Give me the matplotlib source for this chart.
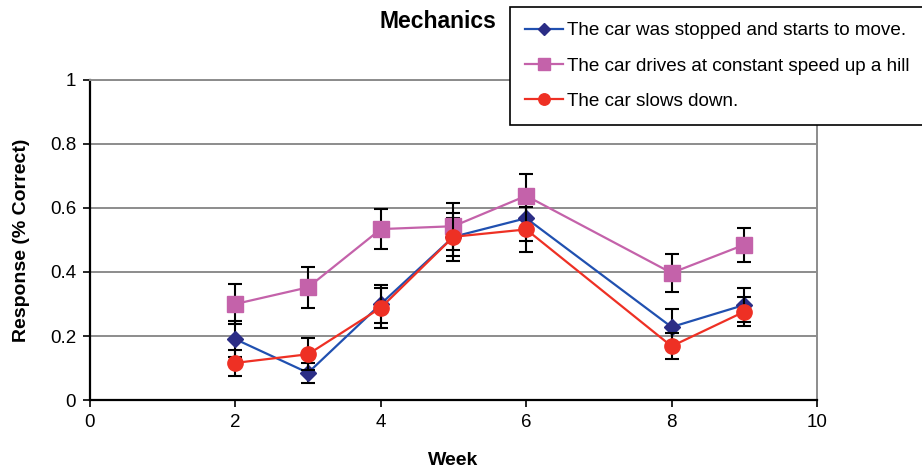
import matplotlib.pyplot as plt
from matplotlib.lines import Line2D
import numpy as np

plt.rcParams["font.family"] = ["Liberation Sans", "DejaVu Sans"]

# data
weeks = [2, 3, 4, 5, 6, 8, 9]

stopped = [0.19, 0.085, 0.30, 0.51, 0.568, 0.228, 0.297]
stopped_err = [0.057, 0.032, 0.06, 0.06, 0.07, 0.055, 0.053]

hill = [0.30, 0.352, 0.534, 0.543, 0.638, 0.397, 0.485]
hill_err = [0.062, 0.063, 0.063, 0.073, 0.068, 0.058, 0.053]

slows = [0.116, 0.143, 0.288, 0.51, 0.533, 0.168, 0.276]
slows_err = [0.04, 0.05, 0.062, 0.075, 0.07, 0.04, 0.045]

labels = [
    "The car was stopped and starts to move.",
    "The car drives at constant speed up a hill",
    "The car slows down.",
]

styles = [
    dict(color="#2050b0", marker="D", ms=8, mfc="#2b2d86", mec="#2b2d86"),
    dict(color="#c462aa", marker="s", ms=11, mfc="#c462aa", mec="#c462aa"),
    dict(color="#ee3024", marker="o", ms=11, mfc="#ee3024", mec="#ee3024"),
]

fig = plt.figure(figsize=(9.22, 4.73), dpi=100)
ax = fig.add_axes((0.0976, 0.1543, 0.7885, 0.6767))

err_kw = dict(ecolor="black", elinewidth=1.5, capsize=5, capthick=1.5, lw=1.6)

for ys, es, st, z in zip([stopped, hill, slows],
                         [stopped_err, hill_err, slows_err], styles, [3, 3, 4]):
    ax.errorbar(weeks, ys, yerr=es, zorder=z, **st, **err_kw)

ax.set_xlim(0, 10)
ax.set_ylim(0, 1)
ax.set_xticks(np.arange(0, 11, 2))
ax.set_yticks([0, 0.2, 0.4, 0.6, 0.8, 1])
ax.set_yticklabels(["0", "0.2", "0.4", "0.6", "0.8", "1"])
ax.tick_params(labelsize=13.5, length=5, width=1.2, direction="out", pad=5)

ax.grid(axis="y", color="#8c8c8c", lw=1.4)
ax.set_axisbelow(True)
for side in ["top", "right"]:
    ax.spines[side].set_color("#8c8c8c")
    ax.spines[side].set_linewidth(1.4)
for side in ["left", "bottom"]:
    ax.spines[side].set_linewidth(1.6)

ax.set_xlabel("Week", fontsize=14, fontweight="bold", labelpad=15)
ax.set_ylabel("Response (% Correct)", fontsize=14, fontweight="bold", labelpad=14)

fig.text(0.475, 0.955, "Mechanics", fontsize=16.5, fontweight="bold",
         ha="center", va="center")

handles = []
for st in styles:
    h = dict(st)
    h["ms"] = st["ms"] * 0.75
    handles.append(Line2D([], [], lw=1.6, **h))

leg = fig.legend(handles, labels, loc="upper left",
                 bbox_to_anchor=(0.553, 0.985),
                 fontsize=13.6, frameon=True, fancybox=False,
                 edgecolor="black", handlelength=2.0, handletextpad=0.25,
                 borderpad=0.8, labelspacing=0.95, borderaxespad=0)
leg.get_frame().set_linewidth(1.2)
leg.get_frame().set_alpha(1)

fig.savefig("out.png", dpi=100)
